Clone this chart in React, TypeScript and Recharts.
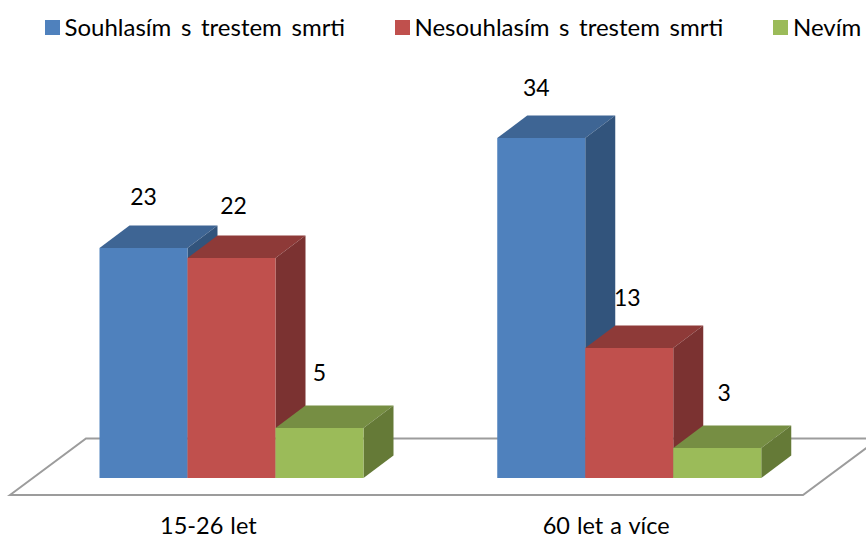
import { Bar, BarChart, LabelList, Legend, ReferenceArea, XAxis, YAxis } from 'recharts'

const ageGroups = ['15-26 let', '60 let a více']
const agree = [23, 34]
const disagree = [22, 13]
const dontKnow = [5, 3]

const seriesNames = ['Souhlasím s trestem smrti', 'Nesouhlasím s trestem smrti', 'Nevím']

const chartData = ageGroups.map((group, i) => ({
  group,
  agree: agree[i],
  disagree: disagree[i],
  dontKnow: dontKnow[i],
}))

const FONT = 'Lato, Carlito, sans-serif'
const DEPTH_X = 30
const DEPTH_Y = 22.5

// front, top, side
const BLUE = ['#4f81bd', '#3e6594', '#32547c']
const RED = ['#c0504d', '#8e3a38', '#7b3231']
const GREEN = ['#9bbb59', '#768e43', '#657a37']

function box3d(colors: string[]) {
  return function Box(props: any) {
    const { x, y, width, height } = props
    const r = x + width
    const b = y + height
    return (
      <g>
        <polygon
          points={`${x},${y} ${x + DEPTH_X},${y - DEPTH_Y} ${r + DEPTH_X},${y - DEPTH_Y} ${r},${y}`}
          fill={colors[1]}
        />
        <polygon
          points={`${r},${y} ${r + DEPTH_X},${y - DEPTH_Y} ${r + DEPTH_X},${b - DEPTH_Y} ${r},${b}`}
          fill={colors[2]}
        />
        <rect x={x} y={y} width={width} height={height} fill={colors[0]} />
      </g>
    )
  }
}

function valueLabel(nudges: number[][]) {
  return function ValueLabel(props: any) {
    const { x, y, width, value, index } = props
    const [dx, dy] = nudges[index]
    return (
      <text
        x={x + width / 2 + dx}
        y={y + dy}
        textAnchor="middle"
        dominantBaseline="central"
        fontFamily={FONT}
        fontSize={23}
        fill="#000"
      >
        {value}
      </text>
    )
  }
}

function Floor(props: any) {
  const { x, y, width, height } = props
  const pts = [
    [x - 22.5, y + height],
    [x + 53.5, y],
    [x + width + 51, y],
    [x + width - 25, y + height],
  ]
  return (
    <polygon
      points={pts.map((p) => p.join(',')).join(' ')}
      fill="#fff"
      stroke="#9c9c9c"
      strokeWidth={2}
    />
  )
}

function LegendRow({ payload }: any) {
  return (
    <div
      style={{
        display: 'flex',
        whiteSpace: 'nowrap',
        fontFamily: FONT,
        fontSize: 24,
        wordSpacing: 3.5,
        color: '#000',
        lineHeight: '26px',
      }}
    >
      {(payload ?? []).map((entry: any, i: number) => (
        <div
          key={entry.value}
          style={{ display: 'flex', alignItems: 'center', width: [350, 378.5, 90][i] }}
        >
          <span
            style={{ width: 15, height: 15, marginRight: 5, background: entry.color, flex: 'none' }}
          />
          {entry.value}
        </div>
      ))}
    </div>
  )
}

export default function App() {
  return (
    <div style={{ position: 'absolute', left: 0, top: 0, width: 866, height: 538, background: '#fff' }}>
      <BarChart
        width={866}
        height={538}
        data={chartData}
        barGap={0}
        barSize={88}
        margin={{ top: 52, right: 38, bottom: 0, left: 32.5 }}
      >
        <YAxis hide domain={[0, 40]} />
        <XAxis
          dataKey="group"
          axisLine={false}
          tickLine={false}
          tickMargin={33}
          height={60}
          tick={{ fontFamily: FONT, fontSize: 23.5, wordSpacing: 1, fill: '#000', dx: -23 }}
        />
        <ReferenceArea y1={-1.7} y2={3.95} ifOverflow="visible" shape={Floor} />
        <Legend
          verticalAlign="top"
          itemSorter={null}
          height={0}
          wrapperStyle={{ position: 'absolute', top: 14, left: 44.5, width: 830 }}
          content={LegendRow}
        />
        <Bar
          dataKey="agree"
          name={seriesNames[0]}
          fill={BLUE[0]}
          shape={box3d(BLUE)}
          isAnimationActive={false}
        >
          <LabelList content={valueLabel([[0, -52], [-5, -51]])} />
        </Bar>
        <Bar
          dataKey="disagree"
          name={seriesNames[1]}
          fill={RED[0]}
          shape={box3d(RED)}
          isAnimationActive={false}
        >
          <LabelList content={valueLabel([[2, -53], [-2, -51]])} />
        </Bar>
        <Bar
          dataKey="dontKnow"
          name={seriesNames[2]}
          fill={GREEN[0]}
          shape={box3d(GREEN)}
          isAnimationActive={false}
        >
          <LabelList content={valueLabel([[0, -56], [7, -56]])} />
        </Bar>
      </BarChart>
    </div>
  )
}
